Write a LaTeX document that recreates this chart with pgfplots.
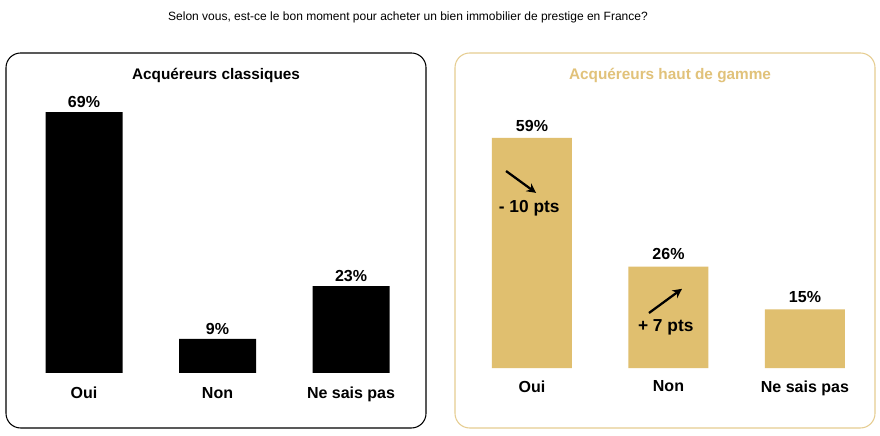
\documentclass[border=0pt]{standalone}
\usepackage{pgfplots}
\pgfplotsset{compat=1.18}
\usepackage{fontspec}
\setmainfont{Liberation Sans}
\usetikzlibrary{arrows.meta}
\definecolor{gold}{RGB}{224,191,111}
\definecolor{goldtitle}{RGB}{225,194,122}
\definecolor{goldbox}{RGB}{230,205,145}
\begin{document}
\begin{tikzpicture}
\useasboundingbox (0,0) rectangle (660pt,326.25pt);
\fill[white] (0,0) rectangle (660pt,326.25pt);
\pgfplotsset{
  panel/.style={
    scale only axis,
    anchor=south west,
    axis line style={draw=none},
    ytick=\empty,
    xtick=data,
    major tick length=0pt,
    xmin=-0.5, xmax=2.5,
    ymin=0, ymax=75,
    ybar,
    /pgf/number format/assume math mode=true,
    xticklabels={Oui,Non,Ne sais pas},
    xticklabel style={font=\fontsize{12}{14}\selectfont\bfseries},
    nodes near coords={\pgfmathprintnumber[assume math mode=true]{\pgfplotspointmeta}\%},
    nodes near coords style={font=\fontsize{12}{14}\selectfont\bfseries, text=black},
    clip=false,
  }
}
% Left panel
\begin{axis}[panel,
  at={(12.94pt,46.5pt)}, width=300.4pt, height=212.6pt,
  bar width=57.75pt,
  xticklabel style={yshift=-7pt},
]
\addplot[fill=black, draw=none] coordinates {(0,69) (1,9) (2,23)};
\end{axis}
% Right panel
\begin{axis}[panel,
  at={(347.8pt,50.25pt)}, width=307.1pt, height=219.4pt,
  bar width=60pt,
  xticklabel style={yshift=-6pt},
  nodes near coords style={yshift=1.5pt},
]
\addplot[fill=gold, draw=none] coordinates {(0,59) (1,26) (2,15)};
\draw[line width=1.7pt, -{Stealth[length=7pt,width=7pt]}] (axis cs:-0.19,50.5) -- (axis cs:0.03,44.9);
\node[font=\fontsize{13}{15}\selectfont\bfseries] at (axis cs:-0.02,41.0) {- 10 pts};
\draw[line width=1.7pt, -{Stealth[length=7pt,width=7pt]}] (axis cs:0.857,14.1) -- (axis cs:1.099,20.3);
\node[font=\fontsize{13}{15}\selectfont\bfseries] at (axis cs:0.98,10.3) {+ 7 pts};
\end{axis}
\begin{scope}[x=0.75pt,y=0.75pt]
\draw[black, line width=0.8pt, rounded corners=11pt] (6,7) rectangle (426,382);
\draw[goldbox, line width=0.8pt, rounded corners=11pt] (455,7) rectangle (875,382);
\node[font=\fontsize{11.5}{13}\selectfont\bfseries] at (216,360) {Acquéreurs classiques};
\node[font=\fontsize{11.5}{13}\selectfont\bfseries, text=goldtitle] at (670,359) {Acquéreurs haut de gamme};
\node[font=\fontsize{9}{11}\selectfont] at (408,418) {Selon vous, est-ce le bon moment pour acheter un bien immobilier de prestige en France?};
\end{scope}
\end{tikzpicture}
\end{document}
